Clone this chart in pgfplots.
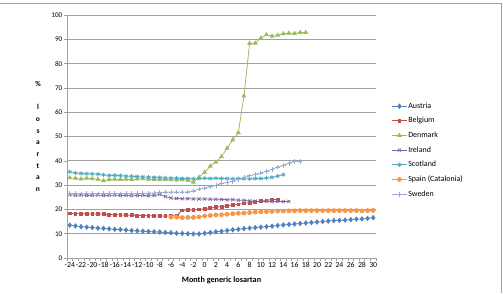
\documentclass[border=0pt]{standalone}
\usepackage{fontspec}
\setmainfont{Carlito}
\usepackage{pgfplots}
\pgfplotsset{compat=1.18}
\definecolor{cAus}{HTML}{4F81BD}
\definecolor{cBel}{HTML}{C0504D}
\definecolor{cDen}{HTML}{9BBB59}
\definecolor{cIre}{HTML}{8064A2}
\definecolor{cSco}{HTML}{4BACC6}
\definecolor{cSpa}{HTML}{F79646}
\definecolor{cSwe}{HTML}{95A9DA}
\definecolor{cGrid}{HTML}{A0A0A0}
\begin{document}
\begin{tikzpicture}[x=1bp,y=1bp]
\useasboundingbox (0,0) rectangle (503,293);
\draw[cGrid, line width=0.7bp] (0,289.8) -- (501.8,289.8) -- (501.8,0);
\begin{axis}[
  at={(67bp,35bp)}, anchor=south west,
  scale only axis, width=309bp, height=243bp,
  xmin=-24.5, xmax=30.5, ymin=0, ymax=100,
  axis x line*=bottom, axis y line*=left,
  axis line style={cGrid, line width=0.7bp},
  xtick={-24,-22,...,30},
  minor xtick={-24.5,-23.5,...,30.5},
  ytick={0,10,...,100},
  tick align=outside,
  major x tick style={draw=none},
  minor x tick style={cGrid, line width=0.6bp},
  minor tick length=3bp,
  major tick length=3bp,
  y tick style={cGrid, line width=0.6bp},
  ymajorgrids, major grid style={cGrid, line width=0.7bp},
  tick label style={text=black},
  /pgf/number format/assume math mode=true,
  xticklabel style={inner sep=1bp, font=\fontsize{7.8}{8}\selectfont},
  yticklabel style={inner sep=1.5bp, font=\fontsize{7.2}{8}\selectfont},
  xlabel={Month generic losartan},
  xlabel style={font=\bfseries\fontsize{8.2}{9}\selectfont, at={(axis description cs:0.5,0)}, anchor=center, yshift=-22.7bp},
  ylabel={\%\\\mbox{}\\l\\o\\s\\a\\r\\t\\a\\n},
  ylabel style={rotate=-90, align=center, font=\bfseries\fontsize{7.5}{11.7}\selectfont, at={(axis description cs:0,0.5)}, anchor=center, xshift=-29bp},
  legend cell align=left,
  legend style={draw=none, fill=none, at={(1.04,0.652)}, anchor=north west,
    font=\fontsize{8}{9}\selectfont, row sep=5.6bp,
    nodes={inner sep=1bp}},
  legend image code/.code={\draw[mark repeat=2,mark phase=2] plot coordinates {(0bp,0bp) (7.5bp,0bp) (15bp,0bp)};},
  every axis plot/.append style={line width=0.75bp},
]
\addplot[cAus, mark=diamond*, mark size=2.2bp, mark options={fill=cAus}] coordinates {
(-24,13.5)(-23,13.2)(-22,12.9)(-21,12.7)(-20,12.5)(-19,12.3)(-18,12.2)(-17,12.0)(-16,11.8)(-15,11.7)
(-14,11.5)(-13,11.3)(-12,11.2)(-11,11.0)(-10,10.9)(-9,10.8)(-8,10.7)(-7,10.5)(-6,10.4)(-5,10.2)
(-4,10.1)(-3,10.0)(-2,9.9)(-1,9.9)(0,10.2)(1,10.5)(2,10.8)(3,11.0)(4,11.3)(5,11.6)
(6,11.8)(7,12.1)(8,12.3)(9,12.5)(10,12.7)(11,12.9)(12,13.1)(13,13.4)(14,13.6)(15,13.8)
(16,14.0)(17,14.2)(18,14.4)(19,14.6)(20,14.8)(21,15.0)(22,15.2)(23,15.4)(24,15.5)(25,15.6)
(26,15.8)(27,16.0)(28,16.1)(29,16.3)(30,16.6)};
\addlegendentry{Austria}
\addplot[cBel, mark=square*, mark size=1.4bp, mark options={fill=cBel}] coordinates {
(-24,18.4)(-23,18.3)(-22,18.2)(-21,18.3)(-20,18.0)(-19,18.2)(-18,18.0)(-17,17.9)(-16,17.8)(-15,17.8)
(-14,17.6)(-13,17.6)(-12,17.5)(-11,17.5)(-10,17.4)(-9,17.3)(-8,17.3)(-7,17.2)(-6,17.3)(-5,17.5)
(-4,19.6)(-3,19.7)(-2,19.8)(-1,20.0)(0,20.3)(1,20.6)(2,20.9)(3,21.2)(4,21.5)(5,21.8)
(6,22.1)(7,22.5)(8,22.8)(9,23.1)(10,23.4)(11,23.7)(12,24.1)(13,24.1)};
\addlegendentry{Belgium}
\addplot[cDen, mark=triangle*, mark size=2.1bp, mark options={fill=cDen}] coordinates {
(-24,33.0)(-23,32.8)(-22,32.5)(-21,32.8)(-20,32.6)(-19,32.4)(-18,31.8)(-17,32.3)(-16,32.4)(-15,32.3)
(-14,32.4)(-13,32.3)(-12,32.5)(-11,32.6)(-10,32.4)(-9,32.3)(-8,32.2)(-7,32.3)(-6,32.2)(-5,32.1)
(-4,32.2)(-3,32.0)(-2,31.2)(-1,33.2)(0,35.3)(1,37.8)(2,39.5)(3,41.7)(4,45.2)(5,48.6)
(6,51.6)(7,66.7)(8,88.3)(9,88.4)(10,90.5)(11,91.9)(12,91.3)(13,91.7)(14,92.3)(15,92.5)
(16,92.4)(17,92.8)(18,92.8)};
\addlegendentry{Denmark}
\addplot[cIre, mark=x, mark size=2.2bp] coordinates {
(-24,26.0)(-23,25.8)(-22,25.9)(-21,25.7)(-20,25.8)(-19,25.9)(-18,25.7)(-17,25.8)(-16,25.9)(-15,25.7)
(-14,25.8)(-13,25.6)(-12,25.7)(-11,25.8)(-10,25.6)(-9,25.7)(-8,26.2)(-7,25.3)(-6,24.7)(-5,24.5)
(-4,24.4)(-3,24.4)(-2,24.3)(-1,24.3)(0,24.3)(1,24.2)(2,24.2)(3,24.1)(4,24.0)(5,24.0)
(6,23.8)(7,23.7)(8,23.5)(9,23.4)(10,23.3)(11,23.3)(12,23.2)(13,23.3)(14,23.2)(15,23.3)};
\addlegendentry{Ireland}
\addplot[cSco, mark=asterisk, mark size=2.2bp] coordinates {
(-24,35.5)(-23,35.0)(-22,34.8)(-21,34.7)(-20,34.6)(-19,34.5)(-18,34.2)(-17,34.0)(-16,34.0)(-15,33.9)
(-14,33.7)(-13,33.6)(-12,33.5)(-11,33.4)(-10,33.3)(-9,33.2)(-8,33.1)(-7,33.0)(-6,32.9)(-5,32.8)
(-4,32.7)(-3,32.7)(-2,32.6)(-1,32.7)(0,32.8)(1,32.7)(2,32.8)(3,32.7)(4,32.7)(5,32.6)
(6,32.7)(7,32.6)(8,32.6)(9,32.7)(10,32.7)(11,32.9)(12,33.2)(13,33.7)(14,34.3)};
\addlegendentry{Scotland}
\addplot[cSpa, mark=*, mark size=2.0bp, mark options={fill=cSpa}] coordinates {
(-6,16.8)(-5,16.8)(-4,16.6)(-3,16.7)(-2,16.7)(-1,16.9)(0,17.3)(1,17.5)(2,17.7)(3,17.8)
(4,18.0)(5,18.2)(6,18.4)(7,18.5)(8,18.7)(9,18.9)(10,19.0)(11,19.1)(12,19.2)(13,19.3)
(14,19.3)(15,19.4)(16,19.4)(17,19.5)(18,19.5)(19,19.5)(20,19.5)(21,19.5)(22,19.5)(23,19.5)
(24,19.5)(25,19.5)(26,19.5)(27,19.5)(28,19.4)(29,19.5)(30,19.6)};
\addlegendentry{Spain (Catalonia)}
\addplot[cSwe, mark=+, mark size=2.3bp] coordinates {
(-24,26.5)(-23,26.6)(-22,26.4)(-21,26.5)(-20,26.6)(-19,26.4)(-18,26.5)(-17,26.6)(-16,26.5)(-15,26.4)
(-14,26.5)(-13,26.6)(-12,26.5)(-11,26.6)(-10,26.7)(-9,26.8)(-8,27.0)(-7,27.1)(-6,27.2)(-5,27.1)
(-4,27.2)(-3,27.2)(-2,27.6)(-1,28.4)(0,28.8)(1,29.3)(2,29.9)(3,30.6)(4,31.1)(5,31.6)
(6,32.4)(7,33.1)(8,33.8)(9,34.4)(10,35.0)(11,35.7)(12,36.5)(13,37.4)(14,38.1)(15,39.0)
(16,39.7)(17,39.6)};
\addlegendentry{Sweden}
\end{axis}
\end{tikzpicture}
\end{document}
